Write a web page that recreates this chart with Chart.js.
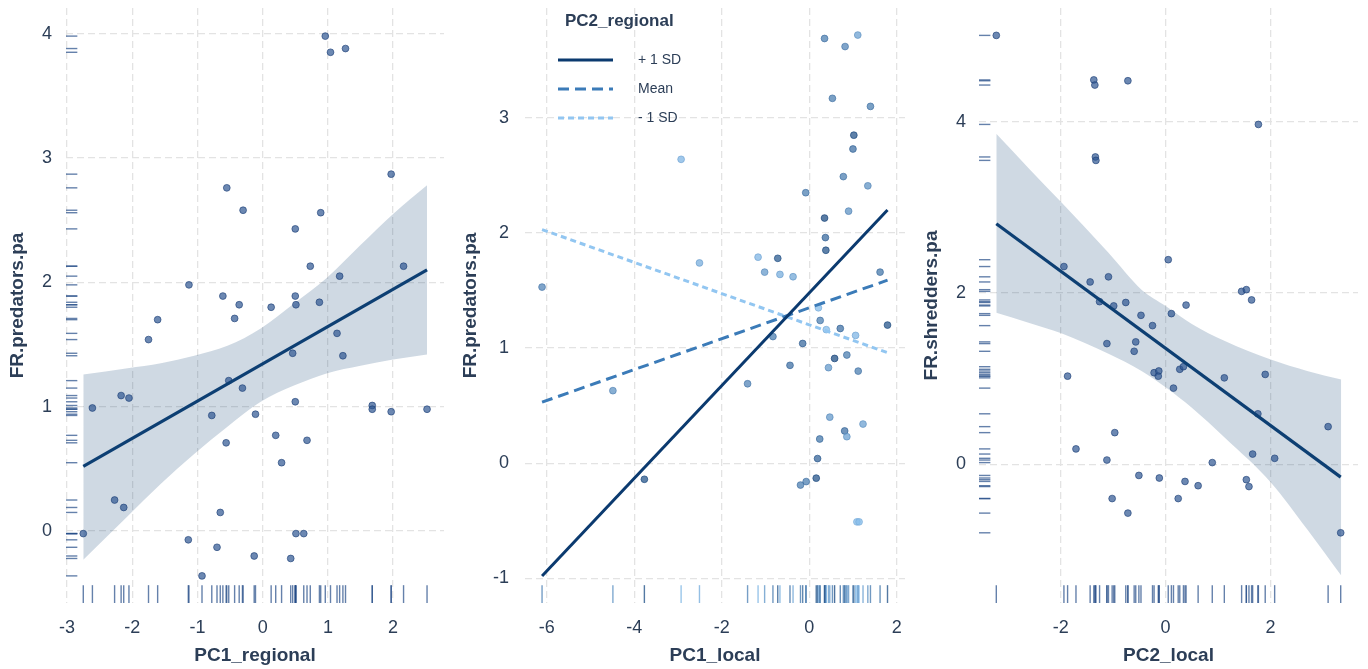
<!DOCTYPE html>
<html>
<head>
<meta charset="utf-8">
<script src="https://cdn.jsdelivr.net/npm/chart.js@4.4.1/dist/chart.umd.min.js"></script>
<style>
  html, body { margin: 0; padding: 0; background: #fff; }
  body { width: 1368px; height: 669px; position: relative; overflow: hidden; }
  .panel { position: absolute; top: 0; height: 669px; }
</style>
</head>
<body>
<div class="panel" style="left:0;width:450px"><canvas id="p1"></canvas></div>
<div class="panel" style="left:455px;width:455px"><canvas id="p2"></canvas></div>
<div class="panel" style="left:913px;width:455px"><canvas id="p3"></canvas></div>
<script>
// ---- panel 1: FR.predators.pa ~ PC1_regional
const p1X = [0.96, 1.04, 1.27, 1.97, -0.55, -0.30, 0.89, 0.50, 0.73, 2.16, 1.18, -1.13, -0.61, 0.50, -0.36, 0.51, 0.87, 0.13, -1.61, -0.43,
  -1.75, 1.14, 0.46, 1.23, -0.52, -0.31, -2.17, -2.05, -2.61, 0.50, 1.68, 1.68, 1.97, 2.52, -0.78, -0.11, 0.20, 0.68, -0.56, 0.29,
  -2.27, -2.13, -0.65, -2.75, 0.51, 0.63, -1.14, -0.70, -0.13, 0.43, -0.93];
const p1Y = [3.98, 3.85, 3.88, 2.87, 2.76, 2.58, 2.56, 2.43, 2.13, 2.13, 2.05, 1.98, 1.89, 1.89, 1.82, 1.82, 1.84, 1.80, 1.70, 1.71,
  1.54, 1.59, 1.43, 1.41, 1.21, 1.15, 1.09, 1.07, 0.99, 1.04, 1.01, 0.98, 0.96, 0.98, 0.93, 0.94, 0.77, 0.73, 0.71, 0.55,
  0.25, 0.19, 0.15, -0.02, -0.02, -0.02, -0.07, -0.13, -0.20, -0.22, -0.36];
const p1LineX = [-2.75, 2.52];
const p1LineY = [0.52, 2.10];
const p1BandX = [-2.75, -2.07, -1.56, -1.05, -0.54, -0.03, 0.48, 0.99, 1.50, 2.00, 2.52];
const p1BandHi = [1.26, 1.31, 1.35, 1.41, 1.49, 1.63, 1.83, 2.04, 2.30, 2.55, 2.78];
const p1BandLo = [-0.23, 0.12, 0.38, 0.62, 0.84, 1.04, 1.17, 1.27, 1.33, 1.38, 1.42];
const p1XTicks = [-3, -2, -1, 0, 1, 2];
const p1YTicks = [0, 1, 2, 3, 4];

// ---- panel 2: FR.predators.pa ~ PC1_local, moderated by PC2_regional
const p2X = [0.35, 0.82, 1.11, 0.53, 1.40, 1.02, 1.00, 0.78, 1.34, -0.08, 0.90, -2.93, 0.35, 0.37, 0.38, -0.72, -1.17, -2.51, -1.02, -0.67,
  -0.37, 1.62, -6.11, 0.21, 0.25, 0.71, 1.79, 0.39, 1.06, -0.83, -0.15, -0.44, 0.58, 0.86, 0.44, 1.12, -1.41, -4.49, 0.47, 1.23,
  0.81, 0.86, 0.24, 0.19, 0.16, -0.07, -0.20, -3.77, 1.09, 1.14];
const p2Y = [3.69, 3.62, 3.72, 3.17, 3.10, 2.85, 2.73, 2.49, 2.41, 2.35, 2.19, 2.64, 2.13, 1.96, 1.85, 1.78, 1.79, 1.74, 1.66, 1.64,
  1.62, 1.66, 1.53, 1.35, 1.24, 1.17, 1.20, 1.16, 1.11, 1.10, 1.04, 0.85, 0.91, 0.94, 0.83, 0.80, 0.69, 0.63, 0.40, 0.34,
  0.28, 0.23, 0.21, 0.04, -0.13, -0.16, -0.19, -0.14, -0.51, -0.51];
// PC2_regional level of each point, 0 = low (light) .. 1 = high (dark)
const p2Mod = [0.5, 0.45, 0.25, 0.5, 0.5, 0.8, 0.6, 0.5, 0.35, 0.5, 0.35, 0.1, 0.85, 0.65, 0.8, 0.75, 0.1, 0.15, 0.3, 0.15,
  0.2, 0.55, 0.45, 0.05, 0.5, 0.6, 0.8, 0.05, 0.1, 0.5, 0.65, 0.6, 0.85, 0.5, 0.3, 0.5, 0.45, 0.35, 0.3, 0.25,
  0.6, 0.25, 0.55, 0.7, 0.8, 0.5, 0.5, 0.8, 0.05, 0.05];
const p2LineX = [-6.11, 1.79];
const p2PlusSD = [-0.98, 2.20];
const p2Mean = [0.53, 1.59];
const p2MinusSD = [2.03, 0.96];
const p2Levels = ['+ 1 SD', 'Mean', '- 1 SD'];
const p2LegendTitle = 'PC2_regional';
const p2XTicks = [-6, -4, -2, 0, 2];
const p2YTicks = [-1, 0, 1, 2, 3];

// ---- panel 3: FR.shredders.pa ~ PC2_local
const p3X = [-3.23, -1.37, -1.35, -0.72, 1.77, -1.34, -1.33, 0.05, -1.94, -1.44, -1.09, 1.45, 1.54, 1.64, -1.26, -0.99, -0.76, 0.39, -0.47, 0.11,
  -0.25, -1.12, -0.57, -0.60, -0.22, -0.13, -0.14, 0.27, 0.34, 0.15, 1.12, 1.90, -1.87, 1.76, 3.10, -0.97, -1.71, -1.12, 1.66, 2.08,
  0.89, -0.51, -0.12, 0.37, 0.62, 1.54, 1.59, -1.02, 0.24, -0.72, 3.34];
const p3Y = [5.01, 4.49, 4.43, 4.48, 3.97, 3.59, 3.55, 2.39, 2.31, 2.13, 2.19, 2.02, 2.04, 1.92, 1.90, 1.85, 1.89, 1.86, 1.74, 1.76,
  1.62, 1.41, 1.43, 1.32, 1.07, 1.09, 1.03, 1.11, 1.14, 0.89, 1.01, 1.05, 1.03, 0.59, 0.44, 0.37, 0.18, 0.05, 0.12, 0.07,
  0.02, -0.13, -0.16, -0.20, -0.25, -0.18, -0.26, -0.40, -0.40, -0.57, -0.80];
const p3LineX = [-3.23, 3.34];
const p3LineY = [2.81, -0.15];
const p3BandX = [-3.23, -2.60, -1.99, -1.09, -0.46, 0.00, 0.50, 1.13, 2.02, 2.70, 3.35];
const p3BandHi = [3.86, 3.45, 3.06, 2.47, 2.04, 1.85, 1.64, 1.44, 1.22, 1.09, 0.99];
const p3BandLo = [1.77, 1.65, 1.53, 1.29, 1.09, 0.90, 0.66, 0.31, -0.22, -0.76, -1.30];
const p3XTicks = [-2, 0, 2];
const p3YTicks = [0, 2, 4];

// ---- styling
const FONT = "'Liberation Sans', Arial, Helvetica, sans-serif";
const TXT = '#2c3e57';
const GRID = '#e3e3e3';
const NAVY = '#0d3f73';
const BAND = 'rgba(13,63,115,0.2)';
const PT_FILL = 'rgba(45,85,145,0.7)';
const PT_EDGE = 'rgba(30,65,120,0.8)';
const RUG = 'rgba(35,75,135,0.7)';
const p2LineColors = ['#0b3a6f', '#3b7bb8', '#92c6f1'];
const p2Dashes = [[], [11, 6], [6, 4]];

function toXY(xs, ys) { return xs.map((x, i) => ({ x, y: ys[i] })); }

function modColor(t, a) {
  const lo = [140, 195, 240], hi = [15, 60, 115];
  const c = lo.map((v, i) => Math.round(v + (hi[i] - v) * t));
  return `rgba(${c[0]},${c[1]},${c[2]},${a})`;
}

function axes(o) {
  const tickFont = { family: FONT, size: 18 };
  const titleFont = { family: FONT, size: 19, weight: 'bold' };
  return {
    x: {
      type: 'linear', min: o.xMin, max: o.xMax,
      afterBuildTicks: s => { s.ticks = o.xTicks.map(v => ({ value: v })); },
      afterFit: s => { s.height = 66; s.paddingLeft = 0; s.paddingRight = 0; },
      grid: { color: GRID, lineWidth: 1.3, drawTicks: false },
      border: { display: false, dash: [7, 4] },
      ticks: { padding: 14, color: TXT, font: tickFont, callback: v => String(v), maxRotation: 0 },
      title: { display: true, text: o.xTitle, color: TXT, font: titleFont, padding: { top: 0, bottom: 2 } }
    },
    y: {
      type: 'linear', min: o.yMin, max: o.yMax,
      afterBuildTicks: s => { s.ticks = o.yTicks.map(v => ({ value: v })); },
      afterFit: s => { s.width = o.yWidth; s.paddingTop = 0; s.paddingBottom = 0; },
      grid: { color: GRID, lineWidth: 1.3, drawTicks: false },
      border: { display: false, dash: [7, 4] },
      ticks: { padding: o.yPad, color: TXT, font: tickFont, callback: v => String(v) },
      title: { display: true, text: o.yTitle, color: TXT, font: titleFont, padding: { top: o.titlePad, bottom: 0 } }
    }
  };
}

function rugPlugin(xs, ys, colors) {
  return {
    id: 'rug',
    beforeDatasetsDraw(chart) {
      const { ctx, chartArea: a, scales } = chart;
      ctx.save();
      ctx.lineWidth = 1.4;
      const lx = (a.bottom - a.top) * 0.03;
      xs.forEach((v, i) => {
        const px = scales.x.getPixelForValue(v);
        ctx.strokeStyle = colors[i];
        ctx.beginPath(); ctx.moveTo(px, a.bottom - lx); ctx.lineTo(px, a.bottom); ctx.stroke();
      });
      if (ys) {
        const ly = (a.right - a.left) * 0.03;
        ys.forEach((v, i) => {
          const py = scales.y.getPixelForValue(v);
          ctx.strokeStyle = colors[i];
          ctx.beginPath(); ctx.moveTo(a.left, py); ctx.lineTo(a.left + ly, py); ctx.stroke();
        });
      }
      ctx.restore();
    }
  };
}

function bandSets(xs, lo, hi) {
  const base = { showLine: true, pointRadius: 0, borderWidth: 1, borderColor: 'rgba(0,0,0,0)', cubicInterpolationMode: 'monotone' };
  return [
    Object.assign({ data: toXY(xs, hi), fill: '+1', backgroundColor: BAND }, base),
    Object.assign({ data: toXY(xs, lo), fill: false }, base)
  ];
}

const common = {
  responsive: true, maintainAspectRatio: false, animation: false, events: [],
  plugins: { legend: { display: false }, tooltip: { enabled: false } }
};

function opts(padRight, ax) {
  return Object.assign({}, common, { layout: { padding: { top: 8, right: padRight, left: 0, bottom: 0 } }, scales: ax });
}

// panel 1
new Chart(document.getElementById('p1'), {
  type: 'scatter',
  data: {
    datasets: [
      { data: toXY(p1LineX, p1LineY), showLine: true, borderColor: NAVY, borderWidth: 3.2, pointRadius: 0, fill: false },
      { data: toXY(p1X, p1Y), pointRadius: 3.4, backgroundColor: PT_FILL, borderColor: PT_EDGE, borderWidth: 0.8 },
      ...bandSets(p1BandX, p1BandLo, p1BandHi)
    ]
  },
  options: opts(6, axes({ xMin: -3.015, xMax: 2.78, yMin: -0.578, yMax: 4.206, xTicks: p1XTicks, yTicks: p1YTicks,
    xTitle: 'PC1_regional', yTitle: 'FR.predators.pa', yWidth: 66, yPad: 14, titlePad: 6 })),
  plugins: [rugPlugin(p1X, p1Y, p1X.map(() => RUG))]
});

// panel 2
const p2Legend = {
  id: 'p2legend',
  afterDatasetsDraw(chart) {
    const { ctx, chartArea: a } = chart;
    ctx.save();
    ctx.fillStyle = TXT;
    ctx.textBaseline = 'middle';
    ctx.font = `bold 17px ${FONT}`;
    ctx.fillText(p2LegendTitle, a.left + 40, a.top + 13);
    p2Levels.forEach((lab, i) => {
      const yy = a.top + 52 + i * 29;
      ctx.strokeStyle = p2LineColors[i];
      ctx.lineWidth = 3.2;
      ctx.setLineDash(p2Dashes[i]);
      ctx.beginPath(); ctx.moveTo(a.left + 33, yy); ctx.lineTo(a.left + 88, yy); ctx.stroke();
      ctx.setLineDash([]);
      ctx.font = `14px ${FONT}`;
      ctx.fillText(lab, a.left + 113, yy);
    });
    ctx.restore();
  }
};

new Chart(document.getElementById('p2'), {
  type: 'scatter',
  data: {
    datasets: [
      { data: toXY(p2LineX, p2PlusSD), showLine: true, borderColor: p2LineColors[0], borderWidth: 3, pointRadius: 0 },
      { data: toXY(p2LineX, p2Mean), showLine: true, borderColor: p2LineColors[1], borderWidth: 3, borderDash: p2Dashes[1], pointRadius: 0 },
      { data: toXY(p2LineX, p2MinusSD), showLine: true, borderColor: p2LineColors[2], borderWidth: 3, borderDash: p2Dashes[2], pointRadius: 0 },
      { data: toXY(p2X, p2Y), pointRadius: 3.4, borderWidth: 0.8,
        backgroundColor: p2Mod.map(t => modColor(t, 0.75)), borderColor: p2Mod.map(t => modColor(Math.min(1, t + 0.15), 0.8)) }
    ]
  },
  options: opts(5, axes({ xMin: -6.5, xMax: 2.19, yMin: -1.215, yMax: 3.955, xTicks: p2XTicks, yTicks: p2YTicks,
    xTitle: 'PC1_local', yTitle: 'FR.predators.pa', yWidth: 70, yPad: 16, titlePad: 4 })),
  plugins: [rugPlugin(p2X, null, p2Mod.map(t => modColor(t, 0.8))), p2Legend]
});

// panel 3
new Chart(document.getElementById('p3'), {
  type: 'scatter',
  data: {
    datasets: [
      { data: toXY(p3LineX, p3LineY), showLine: true, borderColor: NAVY, borderWidth: 3.2, pointRadius: 0, fill: false },
      { data: toXY(p3X, p3Y), pointRadius: 3.4, backgroundColor: PT_FILL, borderColor: PT_EDGE, borderWidth: 0.8 },
      ...bandSets(p3BandX, p3BandLo, p3BandHi)
    ]
  },
  options: opts(10, axes({ xMin: -3.56, xMax: 3.67, yMin: -1.62, yMax: 5.33, xTicks: p3XTicks, yTicks: p3YTicks,
    xTitle: 'PC2_local', yTitle: 'FR.shredders.pa', yWidth: 66, yPad: 13, titlePad: 7 })),
  plugins: [rugPlugin(p3X, p3Y, p3X.map(() => RUG))]
});
</script>
</body>
</html>
